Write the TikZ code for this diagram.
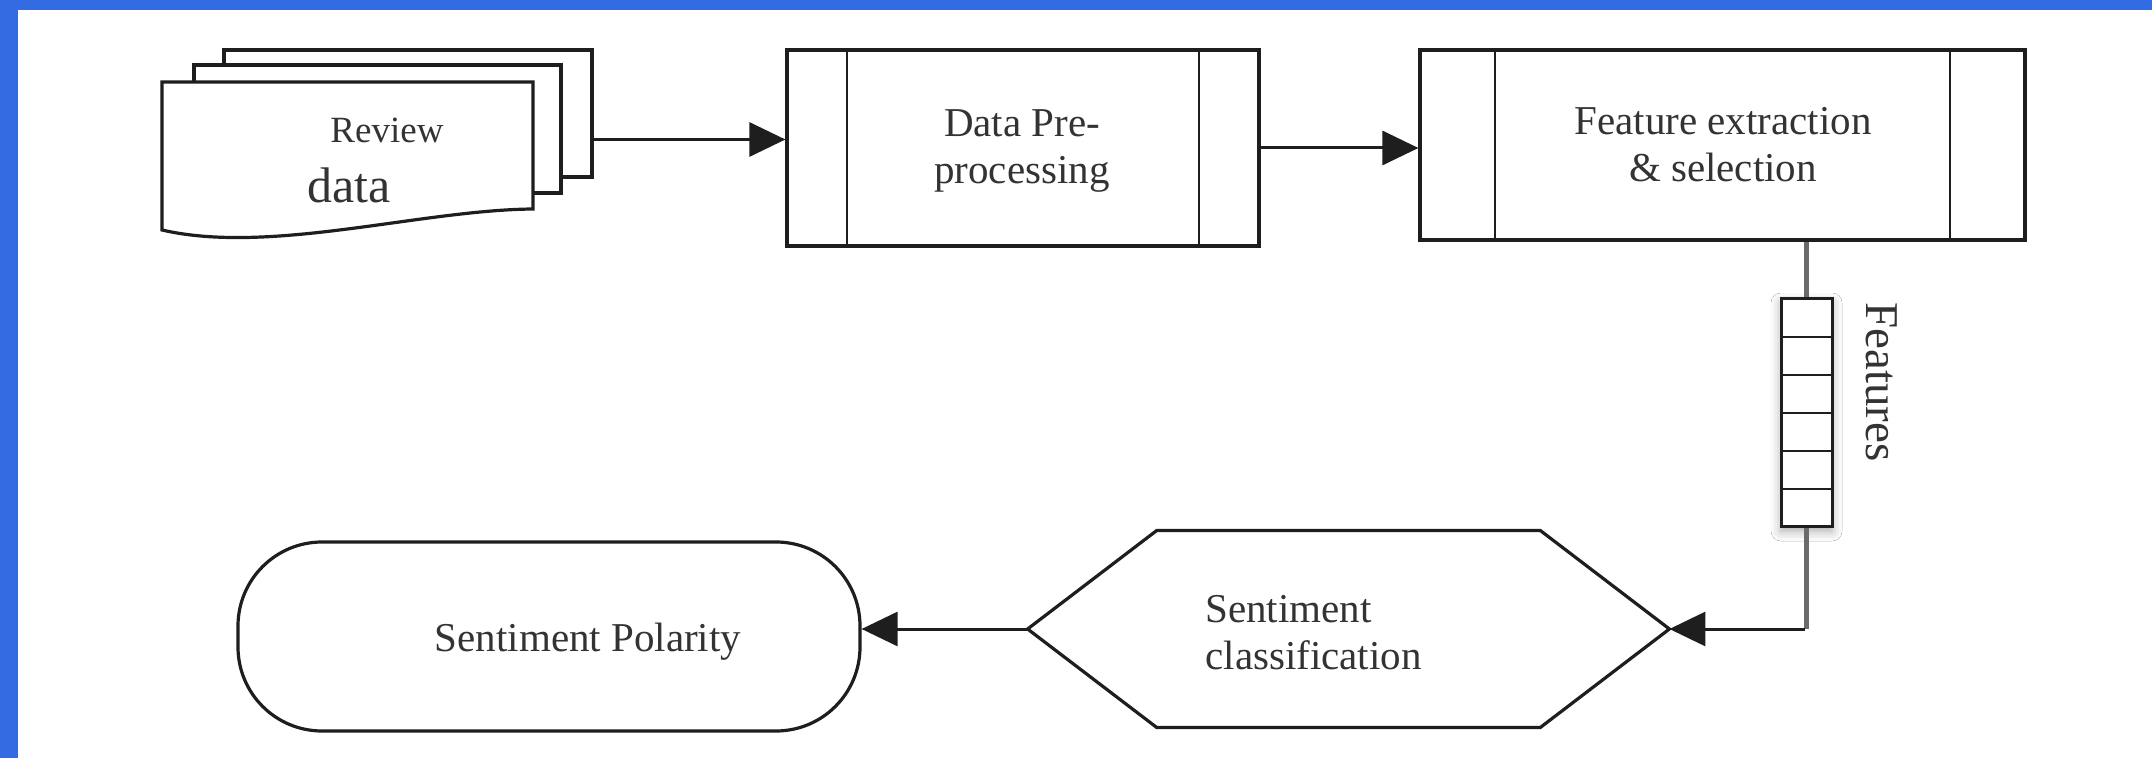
\documentclass[tikz,border=0pt]{standalone}
\usepackage{fontspec}
\setmainfont{Liberation Serif}
\usetikzlibrary{arrows.meta,calc,shadows.blur}
\definecolor{frameblue}{HTML}{336BE3}
\definecolor{ink}{HTML}{1E1E1E}
\definecolor{txtink}{HTML}{333333}
\definecolor{feedgray}{HTML}{6A6A6A}
\newcommand\mylblfont{\fontsize{20.5}{23.5}\selectfont}
\begin{document}
\begin{tikzpicture}[x=0.5pt,y=-0.5pt,
  box/.style={draw=ink, line width=1.6pt, fill=white, inner sep=0pt},
  subproc/.style={box, path picture={
      \draw[ink, line width=1.4pt] ([xshift=#1]path picture bounding box.north west) -- ([xshift=#1]path picture bounding box.south west);
      \draw[ink, line width=1.4pt] ([xshift=-#1]path picture bounding box.north east) -- ([xshift=-#1]path picture bounding box.south east);}},
  cellstack/.style={box, line width=1.5pt, path picture={
      \foreach \i in {1,...,5}{
        \draw[ink, line width=1.4pt] ($(path picture bounding box.north west)!\i/6!(path picture bounding box.south west)$) -- ($(path picture bounding box.north east)!\i/6!(path picture bounding box.south east)$);}}},
  txt/.style={text=txtink, inner sep=0pt, font=\mylblfont},
  arr/.style={draw=ink, line width=1.5pt, -{Triangle[length=18pt,width=17pt]}},
  feed/.style={draw=feedgray, line width=2.5pt}
]
\useasboundingbox (0,0) rectangle (2152,758);
\fill[frameblue] (0,0) rectangle (2152,758);
\fill[white] (18,10) rectangle (2152,758);

% Review data (multi-document)
\node[box, minimum width=184pt, minimum height=63.5pt] (revback) at (408,113.5) {};
\node[box, minimum width=183.5pt, minimum height=64pt] (revmid) at (377.5,129) {};
\draw[box] (162,82) -- (533,82) -- (533,209) .. controls (420,210) and (270,255) .. (162,230) -- cycle;
\node[txt, anchor=base, font=\fontsize{18.5}{22}\selectfont] (revtxt) at (387,143) {Review};
\node[txt, anchor=base, font=\fontsize{25}{30}\selectfont] (datatxt) at (349,203) {data};

% Process boxes
\node[subproc=30pt, minimum width=236pt, minimum height=98pt] (dpp) at (1023,148) {};
\node[txt, anchor=base] (dpptxt) at (1022,137) {\begin{tabular}[t]{@{}c@{}}Data Pre-\\processing\end{tabular}};

\node[subproc=37.5pt, minimum width=302.5pt, minimum height=95pt] (fe) at (1722.5,145) {};
\node[txt, anchor=base] (fetxt) at (1723,135) {\begin{tabular}[t]{@{}c@{}}Feature extraction\\\& selection\end{tabular}};

% Features stack
\node[cellstack, minimum width=25.5pt, minimum height=114pt,
      blur shadow={shadow xshift=0pt, shadow yshift=-2pt, shadow blur radius=5pt, shadow opacity=35}] (feat) at (1806.5,413) {};
\node[txt, rotate=-90, font=\fontsize{23.5}{28}\selectfont] (featlbl) at (1882,382) {Features};

% Hexagon (classification)
\node[inner sep=0pt, minimum width=320.5pt, minimum height=98pt] (clf) at (1348.5,629) {};
\draw[ink, line width=1.6pt, fill=white] (clf.west) -- ([xshift=64.5pt]clf.north west) -- ([xshift=-64.5pt]clf.north east) -- (clf.east) -- ([xshift=-64.5pt]clf.south east) -- ([xshift=64.5pt]clf.south west) -- cycle;
\node[txt, anchor=base west] (clftxt) at (1205,623) {\begin{tabular}[t]{@{}l@{}}Sentiment\\classification\end{tabular}};

% Terminal (polarity)
\node[box, rounded corners=42pt, minimum width=311pt, minimum height=94.5pt] (pol) at (549,636.5) {};
\node[txt, anchor=base] (poltxt) at (588,652) {Sentiment Polarity};

% Connectors
\draw[arr] ([yshift=-13pt]revback.east) -- ([yshift=-13pt]revback.east -| dpp.west);
\draw[arr] (dpp.east) -- (dpp.east -| fe.west);
\draw[feed] (fe.south -| feat.north) -- (feat.north);
\draw[feed] (feat.south) -- (feat.south |- clf.east);
\draw[arr] ([xshift=-1pt]feat.south |- clf.east) -- (clf.east);
\draw[arr] (clf.west) -- (clf.west -| pol.east);
\end{tikzpicture}
\end{document}
